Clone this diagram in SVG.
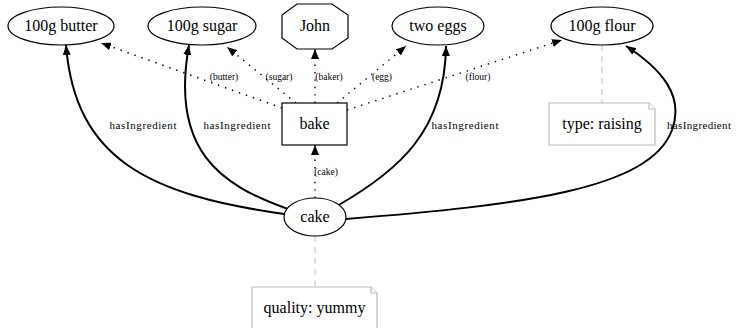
<svg xmlns="http://www.w3.org/2000/svg" width="740" height="328" viewBox="0 0 740 328">
<style>
text{font-family:"Liberation Serif","Times New Roman",serif;fill:#000;text-anchor:middle}
.n{font-size:16px}
.s{font-size:9.5px}
.h{font-size:11px}
.shape{fill:#fff;stroke:#000;stroke-width:1.2}
.note{fill:#fff;stroke:#bbb;stroke-width:1.2}
.solid{fill:none;stroke:#000;stroke-width:2}
.dot{fill:none;stroke:#000;stroke-width:1.4;stroke-dasharray:1.4 6}
.link{fill:none;stroke:#ccc;stroke-width:1.2;stroke-dasharray:6 5}
</style>
<defs>
<marker id="a" viewBox="0 0 10 8" refX="10" refY="4" markerWidth="10" markerHeight="8" markerUnits="userSpaceOnUse" orient="auto">
<path d="M0,0 L10,4 L0,8 Z" fill="#000"/>
</marker>
</defs>
<g id="connectors">
<line class="link" x1="602" y1="45" x2="602" y2="103"/>
<line class="link" x1="315" y1="236" x2="315" y2="287"/>
<path class="solid" d="M284,214 C150,195 75,160 66,45" marker-end="url(#a)"/>
<path class="solid" d="M288,209 C220,185 170,150 189,45" marker-end="url(#a)"/>
<path class="solid" d="M337,206 C400,170 445,130 446,46" marker-end="url(#a)"/>
<path class="solid" d="M346,219 C520,205 650,190 672,130 C685,95 660,68 626,46" marker-end="url(#a)"/>
<path class="dot" d="M282,108 L101,43" marker-end="url(#a)"/>
<path class="dot" d="M296,103 L227,47" marker-end="url(#a)"/>
<path class="dot" d="M315,103 L315,49" marker-end="url(#a)"/>
<path class="dot" d="M337,103 L406,46" marker-end="url(#a)"/>
<path class="dot" d="M347,110 L562,40" marker-end="url(#a)"/>
<path class="dot" d="M315,198 L315,145" marker-end="url(#a)"/>
<text class="h" x="143" y="129" textLength="67">hasIngredient</text>
<text class="h" x="237" y="129" textLength="67">hasIngredient</text>
<text class="h" x="465" y="129" textLength="67">hasIngredient</text>
<text class="h" x="699" y="129" textLength="64">hasIngredient</text>
<text class="s" x="224" y="80">(butter)</text>
<text class="s" x="279" y="80">(sugar)</text>
<text class="s" x="329" y="80">(baker)</text>
<text class="s" x="382" y="80">(egg)</text>
<text class="s" x="478" y="80">(flour)</text>
<text class="s" x="326" y="175">(cake)</text>
</g>
<g id="butter">
<ellipse class="shape" cx="61" cy="26" rx="53" ry="19"/>
<text class="n" x="61" y="31">100g butter</text>
</g>
<g id="sugar">
<ellipse class="shape" cx="202" cy="26" rx="54" ry="19"/>
<text class="n" x="202" y="31">100g sugar</text>
</g>
<g id="john">
<polygon class="shape" points="297,4 332,4 348,15 348,38 332,49 297,49 282,38 282,15"/>
<text class="n" x="315" y="31">John</text>
</g>
<g id="eggs">
<ellipse class="shape" cx="438" cy="26" rx="46" ry="19"/>
<text class="n" x="438" y="31">two eggs</text>
</g>
<g id="flour">
<ellipse class="shape" cx="602" cy="26" rx="51" ry="19"/>
<text class="n" x="602" y="31">100g flour</text>
</g>
<g id="bake">
<rect class="shape" x="282" y="103" width="65" height="42"/>
<text class="n" x="314.5" y="129">bake</text>
</g>
<g id="cake">
<ellipse class="shape" cx="315" cy="217" rx="31" ry="19"/>
<text class="n" x="315" y="222">cake</text>
</g>
<g id="note-raising">
<path class="note" d="M549,103 H649 L655,109 V145 H549 Z"/>
<path class="note" d="M649,103 V109 H655"/>
<text class="n" x="602" y="129">type: raising</text>
</g>
<g id="note-yummy">
<path class="note" d="M252,287 H371 L377,293 V332 H252 Z"/>
<path class="note" d="M371,287 V293 H377"/>
<text class="n" x="314.5" y="313">quality: yummy</text>
</g>
</svg>
